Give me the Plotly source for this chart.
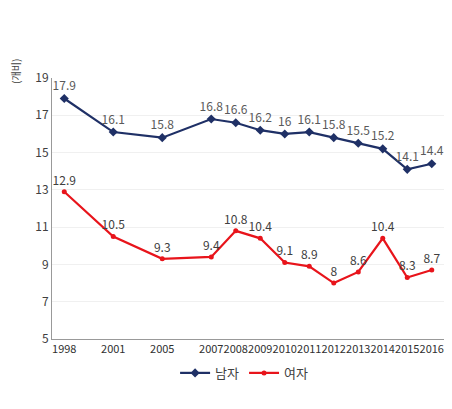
import plotly.graph_objects as go

years = ["1998", "2001", "2005", "2007", "2008", "2009", "2010", "2011", "2012", "2013", "2014", "2015", "2016"]
category_order = ["1998", " ", "2001", "  ", "2005", "   ", "2007", "2008", "2009", "2010", "2011", "2012", "2013", "2014", "2015", "2016"]
male = [17.9, 16.1, 15.8, 16.8, 16.6, 16.2, 16, 16.1, 15.8, 15.5, 15.2, 14.1, 14.4]
female = [12.9, 10.5, 9.3, 9.4, 10.8, 10.4, 9.1, 8.9, 8, 8.6, 10.4, 8.3, 8.7]
y_ticks = [5, 7, 9, 11, 13, 15, 17, 19]

font_family = "Noto Sans CJK KR, Noto Sans, sans-serif"

fig = go.Figure()
fig.add_trace(go.Scatter(
    x=years, y=male, name="남자", mode="lines+markers+text",
    line=dict(color="#1f3066", width=2.2),
    marker=dict(symbol="diamond", size=7, color="#1f3066"),
    text=[str(v) for v in male], textposition="top center",
    textfont=dict(size=12, color="#595959"), cliponaxis=False,
))
fig.add_trace(go.Scatter(
    x=years, y=female, name="여자", mode="lines+markers+text",
    line=dict(color="#e8141b", width=2.2),
    marker=dict(symbol="circle", size=5, color="#e8141b"),
    text=[str(v) for v in female], textposition="top center",
    textfont=dict(size=12, color="#404040"), cliponaxis=False,
))

fig.update_layout(
    width=444, height=401,
    margin=dict(l=44, r=8, t=70, b=70),
    paper_bgcolor="white", plot_bgcolor="white",
    font=dict(family=font_family, size=11, color="#404040"),
    showlegend=True,
    legend=dict(orientation="h", x=0.49, xanchor="center", y=-0.13, yanchor="middle",
                font=dict(size=13, color="#404040"), itemwidth=30),
    xaxis=dict(type="category", categoryorder="array", categoryarray=category_order,
               range=[-0.5, 15.5], showline=True, linecolor="#999999", linewidth=1,
               showgrid=False, ticks="", tickangle=0,
               tickfont=dict(size=11, color="#303030")),
    yaxis=dict(range=[5, 19], tickvals=y_ticks, showline=True, linecolor="#999999", linewidth=1,
               showgrid=True, gridcolor="#f0f0f0", zeroline=False, ticks="",
               tickfont=dict(size=12, color="#404040")),
    annotations=[dict(text="(개비)", xref="paper", yref="paper", x=-0.092, y=1.027,
                      xanchor="center", yanchor="middle", textangle=-90, showarrow=False,
                      font=dict(size=10, color="#404040"))],
)

fig.write_html("out.html")
